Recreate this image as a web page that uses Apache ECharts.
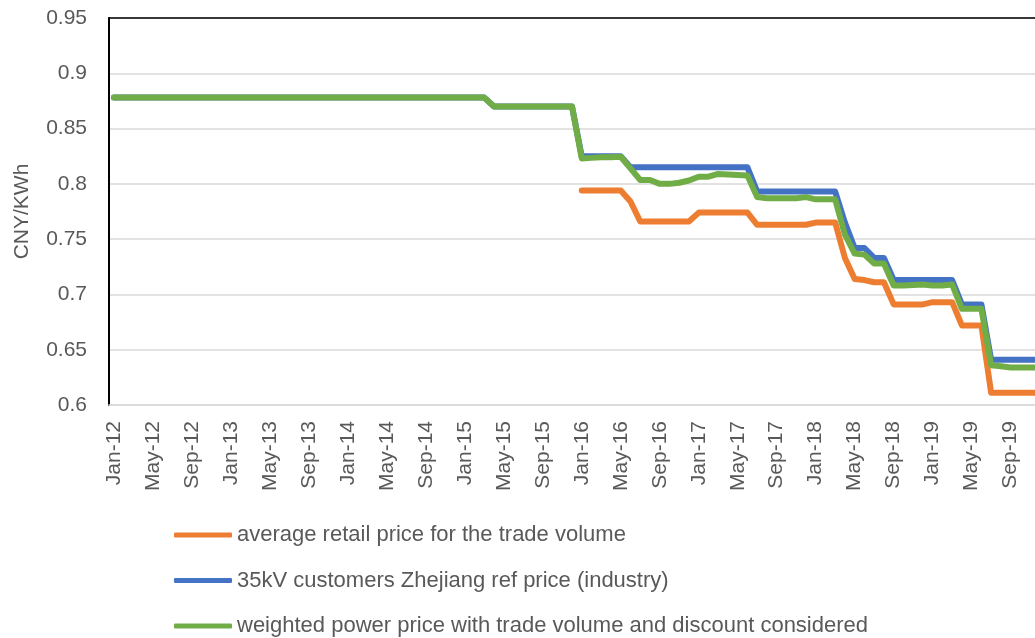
<!DOCTYPE html>
<html><head><meta charset="utf-8">
<script src="https://cdn.jsdelivr.net/npm/echarts@6/dist/echarts.min.js"></script>
<style>html,body{margin:0;padding:0;background:#fff}#c{width:1035px;height:638px}</style>
</head><body><div id="c"></div>
<script>
const months = [
'Jan-12','Feb-12','Mar-12','Apr-12','May-12','Jun-12','Jul-12','Aug-12','Sep-12','Oct-12','Nov-12','Dec-12',
'Jan-13','Feb-13','Mar-13','Apr-13','May-13','Jun-13','Jul-13','Aug-13','Sep-13','Oct-13','Nov-13','Dec-13',
'Jan-14','Feb-14','Mar-14','Apr-14','May-14','Jun-14','Jul-14','Aug-14','Sep-14','Oct-14','Nov-14','Dec-14',
'Jan-15','Feb-15','Mar-15','Apr-15','May-15','Jun-15','Jul-15','Aug-15','Sep-15','Oct-15','Nov-15','Dec-15',
'Jan-16','Feb-16','Mar-16','Apr-16','May-16','Jun-16','Jul-16','Aug-16','Sep-16','Oct-16','Nov-16','Dec-16',
'Jan-17','Feb-17','Mar-17','Apr-17','May-17','Jun-17','Jul-17','Aug-17','Sep-17','Oct-17','Nov-17','Dec-17',
'Jan-18','Feb-18','Mar-18','Apr-18','May-18','Jun-18','Jul-18','Aug-18','Sep-18','Oct-18','Nov-18','Dec-18',
'Jan-19','Feb-19','Mar-19','Apr-19','May-19','Jun-19','Jul-19','Aug-19','Sep-19','Oct-19','Nov-19','Dec-19'];

// average retail price for the trade volume (starts Jan-16)
const retailPrice = [
null,null,null,null,null,null,null,null,null,null,null,null,
null,null,null,null,null,null,null,null,null,null,null,null,
null,null,null,null,null,null,null,null,null,null,null,null,
null,null,null,null,null,null,null,null,null,null,null,null,
0.794,0.794,0.794,0.794,0.794,0.784,0.766,0.766,0.766,0.766,0.766,0.766,
0.774,0.774,0.774,0.774,0.774,0.774,0.763,0.763,0.763,0.763,0.763,0.763,
0.765,0.765,0.765,0.733,0.714,0.713,0.711,0.711,0.691,0.691,0.691,0.691,
0.693,0.693,0.693,0.672,0.672,0.672,0.611,0.611,0.611,0.611,0.611,0.611];

// 35kV customers Zhejiang ref price (industry)
const refPrice = [
0.878,0.878,0.878,0.878,0.878,0.878,0.878,0.878,0.878,0.878,0.878,0.878,
0.878,0.878,0.878,0.878,0.878,0.878,0.878,0.878,0.878,0.878,0.878,0.878,
0.878,0.878,0.878,0.878,0.878,0.878,0.878,0.878,0.878,0.878,0.878,0.878,
0.878,0.878,0.878,0.870,0.870,0.870,0.870,0.870,0.870,0.870,0.870,0.870,
0.825,0.825,0.825,0.825,0.825,0.815,0.815,0.815,0.815,0.815,0.815,0.815,
0.815,0.815,0.815,0.815,0.815,0.815,0.793,0.793,0.793,0.793,0.793,0.793,
0.793,0.793,0.793,0.765,0.742,0.742,0.733,0.733,0.713,0.713,0.713,0.713,
0.713,0.713,0.713,0.691,0.691,0.691,0.641,0.641,0.641,0.641,0.641,0.641];

// weighted power price with trade volume and discount considered
const weightedPrice = [
0.878,0.878,0.878,0.878,0.878,0.878,0.878,0.878,0.878,0.878,0.878,0.878,
0.878,0.878,0.878,0.878,0.878,0.878,0.878,0.878,0.878,0.878,0.878,0.878,
0.878,0.878,0.878,0.878,0.878,0.878,0.878,0.878,0.878,0.878,0.878,0.878,
0.878,0.878,0.878,0.870,0.870,0.870,0.870,0.870,0.870,0.870,0.870,0.870,
0.823,0.8235,0.824,0.824,0.8245,0.814,0.8035,0.8035,0.800,0.800,0.801,0.803,
0.8065,0.8065,0.809,0.8085,0.808,0.8075,0.788,0.787,0.787,0.787,0.787,0.788,
0.786,0.786,0.786,0.754,0.737,0.736,0.728,0.728,0.708,0.708,0.7085,0.709,
0.708,0.708,0.709,0.687,0.687,0.687,0.636,0.635,0.634,0.634,0.634,0.634];

const seriesNames = ['average retail price for the trade volume',
 '35kV customers Zhejiang ref price (industry)',
 'weighted power price with trade volume and discount considered'];
const seriesColors = ['#ED7D31','#4472C4','#70AD47'];
const yTicks = {min:0.6, max:0.95, interval:0.05};
const lastVisibleMonth = 'Nov-19'; // the reference image is cut at the right edge

const FONT = 'Liberation Sans';
const chart = echarts.init(document.getElementById('c'), null, {renderer:'canvas'});
function mk(name, data, color){
  return {name, type:'line', data, symbol:'none', showSymbol:false, color,
    lineStyle:{width:6, color, cap:'round', join:'round'}, animation:false};
}
chart.setOption({
  animation:false,
  textStyle:{fontFamily:FONT},
  grid:{left:109, top:18, right:0, height:387, containLabel:false},
  legend:{orient:'vertical', left:174, top:523, padding:0, itemWidth:58, itemHeight:5, itemGap:21.5, icon:'roundRect',
    textStyle:{fontFamily:FONT, fontSize:22, color:'#595959', lineHeight:24},
    data:seriesNames},
  xAxis:[{type:'category', data:months, boundaryGap:true, max:lastVisibleMonth,
    axisLine:{show:true, lineStyle:{color:'#d9d9d9', width:1.5}},
    axisTick:{show:false},
    axisLabel:{interval:3, rotate:90, margin:16, color:'#595959', fontSize:21, fontFamily:FONT},
    splitLine:{show:false}},
   {type:'category', data:months, position:'top', boundaryGap:true, max:lastVisibleMonth,
    axisLine:{show:true, lineStyle:{color:'#000', width:1.5}},
    axisTick:{show:false}, axisLabel:{show:false}, splitLine:{show:false}}],
  yAxis:{type:'value', min:yTicks.min, max:yTicks.max, interval:yTicks.interval,
    name:'CNY/KWh', nameLocation:'middle', nameGap:76, nameRotate:90,
    nameTextStyle:{color:'#595959', fontSize:21, fontFamily:FONT},
    axisLine:{show:true, lineStyle:{color:'#000', width:2}},
    axisTick:{show:false},
    axisLabel:{color:'#595959', fontSize:21, margin:22, fontFamily:FONT},
    splitLine:{lineStyle:{color:'#d9d9d9', width:1.5}}},
  series:[mk(seriesNames[0], retailPrice, seriesColors[0]),
          mk(seriesNames[1], refPrice, seriesColors[1]),
          mk(seriesNames[2], weightedPrice, seriesColors[2])]
});
</script></body></html>
